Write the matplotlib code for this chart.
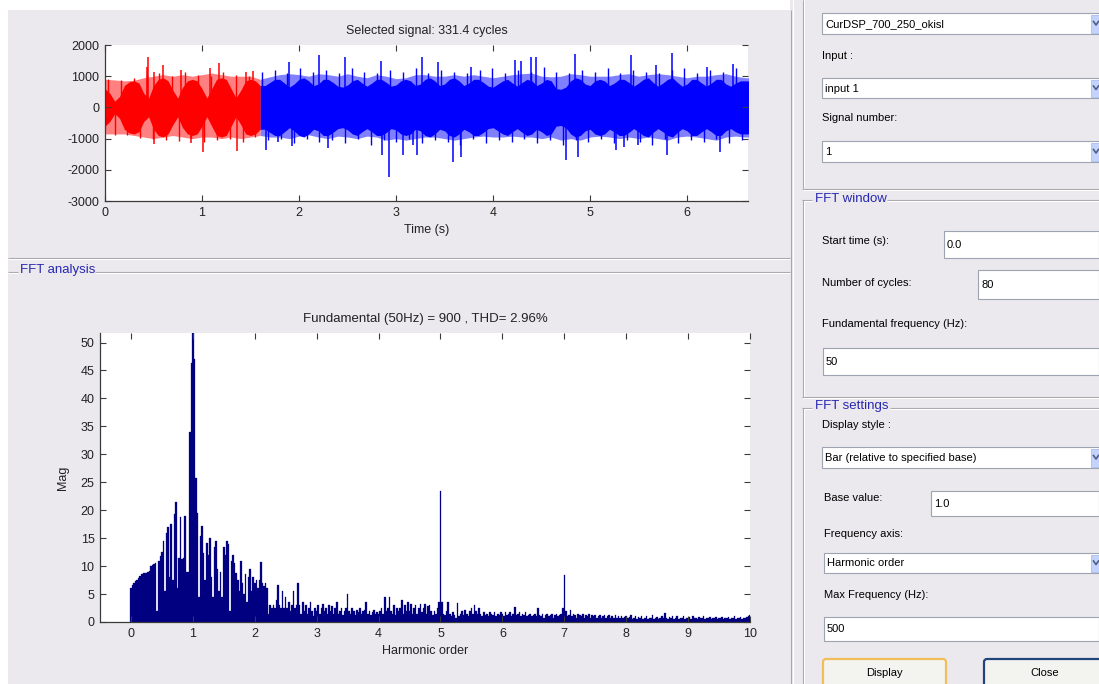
import numpy as np
import matplotlib
matplotlib.use('Agg')
import matplotlib.pyplot as plt
from matplotlib.patches import Rectangle, FancyBboxPatch

plt.rcParams['font.family'] = ['Liberation Sans', 'DejaVu Sans']
plt.rcParams['axes.unicode_minus'] = False

W, H = 1099, 684

# ---------------- data: time signal ----------------
sig_title = 'Selected signal: 331.4 cycles'
sig_xlabel = 'Time (s)'
sig_duration = 6.628
split_time = 1.6
sig_yticks = [-3000, -2000, -1000, 0, 1000, 2000]
sig_xticks = [0, 1, 2, 3, 4, 5, 6]

dark_step = 0.05
dark_amp = [600, 450, 200, 350, 700, 820, 850, 780, 450, 300,
            700, 900, 950, 850, 550, 300, 650, 850, 900, 850,
            600, 300, 600, 900, 950, 900, 600, 300, 550, 850,
            900, 850, 700,
            700, 800, 900, 900, 780, 650, 750, 900, 950, 850,
            700, 750, 900, 900, 800, 680, 650, 720, 850, 900,
            780, 680, 780, 900, 900, 800, 680, 720, 850, 900,
            850, 700, 750, 900, 950, 850, 700, 750, 900, 950,
            850, 700, 780, 900, 900, 800, 680, 650, 750, 850,
            900, 780, 680, 800, 900, 850, 700, 780, 900, 850,
            600, 580, 650, 850, 950, 900, 750, 700, 850, 900,
            850, 700, 780, 900, 900, 800, 680, 780, 900, 950,
            800, 680, 780, 900, 950, 800, 680, 750, 900, 900,
            780, 680, 780, 900, 900, 750, 680, 780, 850, 850,
            850]

light_step = 0.1
light_hi = [900, 880, 850, 870, 950, 1000, 1050, 1000, 1050, 1000,
            1050, 1100, 1050, 1000, 1000, 1000, 900, 980, 1050, 1080,
            1050, 1000, 1080, 1050, 1000, 1080, 1000, 950, 1050, 1000,
            920, 950, 1050, 1050, 1000, 1000, 1050, 1000, 1050, 1000,
            950, 1000, 1050, 1080, 1100, 1000, 980, 1000, 1080, 1050,
            1000, 1000, 1000, 1050, 1080, 1000, 1050, 1080, 1050, 1000,
            950, 1000, 1000, 1050, 1080, 1000, 950, 950]
light_lo = [-850, -850, -850, -900, -950, -1000, -950, -900, -950, -1000,
            -950, -950, -1000, -950, -1000, -950, -900, -950, -950, -1000,
            -920, -880, -950, -1000, -920, -950, -1000, -920, -950, -1050,
            -1000, -1050, -1000, -950, -950, -1000, -1050, -1000, -950, -920,
            -950, -950, -920, -950, -950, -1000, -950, -1050, -1000, -1050,
            -950, -920, -950, -1000, -950, -1000, -950, -1000, -1050, -950,
            -920, -950, -1000, -1050, -950, -920, -950, -950]

# main isolated spikes
spike_t = [0.43, 0.445, 0.50, 0.51, 0.60, 0.78, 0.89, 1.01, 1.08, 1.17,
           1.36, 1.45, 1.53, 1.66, 1.78, 1.90, 1.93, 2.21, 2.30, 2.47,
           2.84, 2.86, 2.93, 3.07, 3.17, 3.22, 3.27, 3.43, 3.59, 3.67,
           3.77, 4.23, 4.29, 4.39, 4.44, 4.75, 4.84, 4.88, 5.27, 5.35,
           5.42, 5.49, 5.68, 5.79, 5.84, 6.21, 6.34, 6.47]
spike_v = [1300, 1625, 1140, -1170, 1360, 1200, -1150, -1430, 1260, 1420,
           -1390, 1140, 1170, -1380, -1100, 1465, -1230, 1690, -1290, 1610,
           1490, -1520, -2230, -1520, -1200, -1520, 1625, 1470, -1740, -1580,
           1300, 1520, 1480, 1625, 1600, -1690, 1720, -1580, -1365, -1260,
           1690, -1200, 1360, -1520, 1740, 1300, -1420, 1380]

# smaller edge spikes (jagged band edges), one every 0.066 s from 0.033 s
fine_start = 0.033
fine_step = 0.066
fine_v = [920, -880, 870, -900, 950, -980, 1050, -1000, 1100, -1050,
          1000, -1080, 1150, -980, 1050, -1100, 1000, -1050, 1120, -1000,
          1050, -1100, 1000, -950, 1150, -1050, 1200, -1000, 1100, -1150,
          1250, -1000, 1150, -1100, 1200, -1050, 1100, -1150, 1250, -1000,
          1150, -1200, 1100, -1050, 1200, -1100, 1150, -1000, 1250, -1150,
          1100, -1050, 1200, -1100, 1150, -1200, 1100, -1000, 1200, -1150,
          1250, -1050, 1100, -1100, 1200, -1000, 1150, -1150, 1300, -1050,
          1150, -1200, 1100, -1050, 1200, -1100, 1150, -1000, 1250, -1150,
          1100, -1050, 1200, -1100, 1150, -1200, 1100, -1000, 1200, -1150,
          1250, -1050, 1100, -1100, 1200, -1000, 1150, -1150, 1250, -1050]

# ---------------- data: FFT spectrum ----------------
fft_title = 'Fundamental (50Hz) = 900 , THD= 2.96%'
fft_xlabel = 'Harmonic order'
fft_ylabel = 'Mag'
fft_xticks = list(range(0, 11))
fft_yticks = list(range(0, 51, 5))
harm_step = 0.025
fft_mag = [
    6.1, 6.6, 7.0, 7.3, 7.6, 7.9, 8.2, 8.5, 8.8, 8.8, 8.8, 8.9, 9.2, 10.0, 10.2, 10.3, 10.5, 2.0, 11.0, 11.8,
    12.5, 14.5, 5.5, 16.0, 17.0, 8.0, 17.5, 7.5, 19.4, 21.4, 6.0, 11.5, 18.8, 11.2, 11.5, 19.0, 9.0, 9.0, 34.0, 46.3,
    52.0, 47.0, 25.7, 19.5, 4.5, 15.3, 17.1, 12.3, 7.5, 14.1, 12.0, 15.0, 8.0, 4.5, 13.5, 14.5, 9.5, 5.5, 9.0, 4.5,
    13.5, 12.0, 14.5, 14.0, 2.0, 11.0, 12.0, 10.5, 8.7, 7.5, 5.5, 11.0, 7.0, 5.0, 8.5, 3.5, 8.0, 9.5, 5.5, 8.0,
    7.0, 7.5, 6.0, 7.5, 10.7, 7.0, 6.5, 7.0, 6.0, 1.5, 3.0, 2.5, 3.0, 2.5, 4.0, 6.7, 3.0, 2.5, 5.5, 2.5,
    4.5, 2.5, 3.5, 2.0, 3.0, 5.5, 2.5, 3.0, 7.0, 3.0, 1.5, 3.5, 2.0, 3.0, 1.5, 2.5, 3.5, 2.0, 1.0, 2.5,
    2.0, 3.0, 1.5, 2.5, 3.2, 2.0, 2.5, 1.5, 3.0, 2.0, 2.8, 1.5, 2.5, 3.5, 1.5, 2.0, 2.5, 1.2, 2.0, 2.5,
    5.0, 2.0, 1.5, 2.5, 2.0, 1.2, 2.2, 1.8, 2.5, 1.5, 2.0, 2.2, 3.6, 1.5, 2.0, 1.2, 1.8, 2.2, 1.5, 1.8,
    1.5, 2.0, 2.5, 1.5, 4.5, 2.0, 2.5, 4.5, 2.0, 1.5, 3.0, 1.2, 2.5, 2.0, 2.5, 4.0, 1.5, 3.0, 2.0, 3.5,
    2.0, 3.2, 1.5, 2.5, 3.0, 1.5, 2.5, 3.2, 1.8, 2.5, 3.2, 1.5, 2.8, 3.0, 2.0, 1.2, 2.0, 1.5, 2.5, 3.5,
    23.4, 3.5, 1.5, 1.2, 2.0, 3.6, 1.5, 1.0, 1.8, 1.2, 0.8, 3.4, 1.0, 1.5, 2.0, 1.2, 2.2, 1.5, 1.0, 2.0,
    2.5, 1.5, 3.0, 2.0, 1.5, 2.5, 1.5, 1.0, 1.8, 1.2, 1.5, 1.0, 1.8, 1.5, 1.2, 1.8, 1.0, 1.5, 1.2, 1.8,
    1.5, 1.0, 1.8, 1.2, 1.5, 1.8, 1.0, 1.5, 2.7, 1.2, 1.5, 1.8, 1.0, 1.5, 1.2, 1.8, 1.0, 1.2, 1.5, 1.0,
    1.2, 1.5, 1.0, 2.5, 1.2, 1.0, 1.5, 0.8, 1.2, 1.5, 1.0, 1.2, 1.5, 0.8, 1.2, 1.5, 1.0, 1.2, 1.5, 2.5,
    8.4, 2.0, 1.0, 1.2, 2.2, 1.0, 1.5, 1.2, 0.8, 1.5, 1.2, 1.0, 1.5, 0.8, 1.2, 1.0, 1.4, 0.8, 1.2, 1.0,
    1.2, 0.8, 1.0, 1.3, 0.7, 1.0, 1.2, 0.8, 1.0, 1.3, 0.7, 1.0, 0.8, 1.2, 0.7, 1.0, 0.8, 1.1, 0.7, 0.9,
    1.0, 0.7, 0.9, 1.2, 0.6, 0.8, 1.0, 0.6, 0.9, 0.7, 1.0, 0.6, 0.8, 1.1, 0.6, 0.8, 0.7, 1.2, 0.6, 0.8,
    0.9, 0.6, 0.8, 1.0, 0.7, 1.6, 0.8, 0.6, 0.9, 0.7, 1.0, 0.6, 0.8, 1.1, 0.6, 0.8, 0.7, 1.0, 0.6, 0.8,
    0.7, 0.9, 0.6, 1.0, 0.7, 0.8, 0.6, 0.9, 0.7, 0.8, 1.0, 0.6, 0.8, 0.7, 0.9, 0.6, 0.8, 0.7, 0.9, 0.6,
    0.8, 0.7, 0.9, 0.6, 0.8, 0.7, 0.9, 0.6, 0.8, 0.7, 1.0, 0.6, 0.8, 0.7, 0.9, 0.6, 0.8, 0.7, 0.9, 1.0,
    1.3]

# ---------------- GUI texts ----------------
gui_labels = [(822, 56, 'Input :'), (822, 118, 'Signal number:'),
              (822, 241, 'Start time (s):'), (822, 283, 'Number of cycles:'),
              (822, 324, 'Fundamental frequency (Hz):'), (822, 425, 'Display style :'),
              (824, 498, 'Base value:'), (824, 534, 'Frequency axis:'),
              (824, 595, 'Max Frequency (Hz):')]
gui_fields = [('combo', 822, 13, 1099, 34, 'CurDSP_700_250_okisl'),
              ('combo', 822, 78, 1099, 98, 'input 1'),
              ('combo', 822, 141, 1099, 162, '1'),
              ('edit', 944, 231, 1099, 258, '0.0'),
              ('edit', 978, 270, 1099, 299, '80'),
              ('edit', 823, 348, 1099, 375, '50'),
              ('combo', 822, 447, 1099, 468, 'Bar (relative to specified base)'),
              ('edit', 931, 491, 1099, 516, '1.0'),
              ('combo', 824, 553, 1099, 573, 'Harmonic order'),
              ('edit', 824, 617, 1099, 641, '500')]

# ---------------- figure ----------------
BG = '#EBE9ED'
ETCH = '#A7A6AA'
BLUE_TXT = '#2727B0'

fig = plt.figure(figsize=(W / 100, H / 100), dpi=100)
fig.patch.set_facecolor('white')
bg = fig.add_axes([0, 0, 1, 1], zorder=0)
bg.set_xlim(0, W)
bg.set_ylim(H, 0)
bg.axis('off')


def prect(x0, y0, x1, y1, fc, ec='none', lw=0.0, z=1):
    bg.add_patch(Rectangle((x0, y0), x1 - x0, y1 - y0, facecolor=fc,
                           edgecolor=ec, linewidth=lw, zorder=z))


def pline(xs, ys, c, lw=0.8, z=2):
    bg.plot(xs, ys, color=c, linewidth=lw, zorder=z, solid_capstyle='butt')


def ptext(x, y, s, size=8, color='black', ha='left'):
    bg.text(x, y, s, fontsize=size, color=color, ha=ha, va='center', zorder=5)


# panels background
prect(8, 10, 800, H, BG)
prect(790, 0, W, H, BG)
# separators
pline([8, 790], [257.5, 257.5], ETCH)
pline([8, 790], [258.5, 258.5], 'white')
pline([790.5, 790.5], [10, H], ETCH)
pline([792.5, 792.5], [0, H], 'white')

# right group boxes (etched)
pline([802.5, 802.5], [0, 188], ETCH)
pline([803.5, 803.5], [0, 187], 'white')
pline([802, W], [188.5, 188.5], ETCH)
pline([803, W], [189.5, 189.5], 'white')

for top, bot, title, tx1 in [(199.5, 396.5, 'FFT window', 887), (407.5, H + 5, 'FFT settings', 890)]:
    pline([802, 812], [top, top], ETCH)
    pline([tx1, W], [top, top], ETCH)
    pline([803, 812], [top + 1, top + 1], 'white')
    pline([tx1, W], [top + 1, top + 1], 'white')
    pline([802.5, 802.5], [top, bot], ETCH)
    pline([803.5, 803.5], [top + 1, bot], 'white')
    if bot < H:
        pline([802, W], [bot, bot], ETCH)
        pline([803, W], [bot + 1, bot + 1], 'white')
    ptext(815, top - 1, title, size=9.5, color=BLUE_TXT)

# FFT analysis group title
pline([8, 18], [271.5, 271.5], ETCH)
pline([95, 790], [271.5, 271.5], ETCH)
pline([8, 18], [272.5, 272.5], 'white')
pline([95, 790], [272.5, 272.5], 'white')
ptext(20, 270, 'FFT analysis', size=9.5, color=BLUE_TXT)

for x, y, s in gui_labels:
    ptext(x, y, s, size=8)

for kind, x0, y0, x1, y1, s in gui_fields:
    prect(x0, y0, x1, y1, 'white', ec='#9DA3B0', lw=0.8, z=3)
    ptext(x0 + 3, (y0 + y1) / 2 + 0.5, s, size=8)
    if kind == 'combo':
        ax0 = 1091
        prect(ax0, y0 + 1.5, ax0 + 16, y1 - 1.5, '#C3D3FD', ec='#A9BFEF', lw=0.6, z=4)
        cy = (y0 + y1) / 2
        bg.plot([ax0 + 2.5, ax0 + 5, ax0 + 7.5], [cy - 2, cy + 1.5, cy - 2],
                color='#4D6185', lw=1.2, zorder=6)

# buttons
for label, x0, x1, ec in [('Display', 823, 946, '#F2BE5A'), ('Close', 984, 1106, '#22447A')]:
    bg.add_patch(FancyBboxPatch((x0, 659), x1 - x0, 34, boxstyle='round,pad=0,rounding_size=3',
                                facecolor='#F3F3F0', edgecolor=ec, linewidth=1.6, zorder=3))
    ptext((x0 + x1) / 2, 673.5, label, size=8, ha='center')


def px_axes(l, t, r, b):
    return fig.add_axes([l / W, (H - b) / H, (r - l) / W, (b - t) / H], zorder=2)


def style_axes(ax):
    ax.set_facecolor('white')
    for side in ['top', 'right']:
        ax.spines[side].set_visible(False)
    for side in ['left', 'bottom']:
        ax.spines[side].set_color('#3A3A3A')
        ax.spines[side].set_linewidth(0.9)
    ax.tick_params(direction='in', length=4.5, width=0.8, color='#3A3A3A',
                   top=True, right=True, labelsize=9, labelcolor='#222222', pad=4)


def sig_color(t, dark=True):
    if t < split_time:
        return '#FF0000' if dark else '#FF8080'
    return '#0000FF' if dark else '#8080FF'


# ---------------- time signal axes ----------------
ax1 = px_axes(105, 45, 748, 201)
style_axes(ax1)
t_light = np.arange(len(light_hi)) * light_step
lhi = np.array(light_hi, dtype=float)
llo = np.array(light_lo, dtype=float)
t_dark = np.arange(len(dark_amp)) * dark_step
damp = np.array(dark_amp, dtype=float)
eps = 1e-9
mr = t_light <= split_time + eps
mb = t_light >= split_time - eps
ax1.fill_between(t_light[mr], llo[mr], lhi[mr], color='#FF8080', lw=0)
ax1.fill_between(t_light[mb], llo[mb], lhi[mb], color='#8080FF', lw=0)

mr = t_dark <= split_time + eps
mb = t_dark >= split_time - eps
ax1.fill_between(t_dark[mr], -damp[mr], damp[mr], color='#FF0000', lw=0)
ax1.fill_between(t_dark[mb], -damp[mb], damp[mb], color='#0000FF', lw=0)

ft = fine_start + np.arange(len(fine_v)) * fine_step
fv = np.array(fine_v, dtype=float)
ax1.vlines(ft, 0, fv, colors=[sig_color(t) for t in ft], linewidth=1.0)

st = np.array(spike_t)
sv = np.array(spike_v, dtype=float)
ax1.vlines(st, 0, sv, colors=[sig_color(t) for t in st], linewidth=1.1)
ax1.set_xlim(0, sig_duration)
ax1.set_ylim(-3000, 2000)
ax1.set_xticks(sig_xticks)
ax1.set_yticks(sig_yticks)
ax1.set_title(sig_title, fontsize=9, color='#222222', pad=8)
ax1.set_xlabel(sig_xlabel, fontsize=9, color='#222222', labelpad=4)

# ---------------- FFT axes ----------------
ax2 = px_axes(100, 333, 750, 622)
style_axes(ax2)
h = np.arange(len(fft_mag)) * harm_step
ax2.bar(h, fft_mag, width=harm_step, color='#000080', edgecolor='#000080', linewidth=0.2)
ax2.set_xlim(-0.5, 10)
ax2.set_ylim(0, 51.7)
ax2.set_xticks(fft_xticks)
ax2.set_yticks(fft_yticks)
ax2.set_title(fft_title, fontsize=9.5, color='#222222', pad=8)
ax2.set_xlabel(fft_xlabel, fontsize=9, color='#222222', labelpad=4)
ax2.set_ylabel(fft_ylabel, fontsize=9, color='#222222', labelpad=8)

fig.savefig('out.png', dpi=100, facecolor=fig.get_facecolor())
